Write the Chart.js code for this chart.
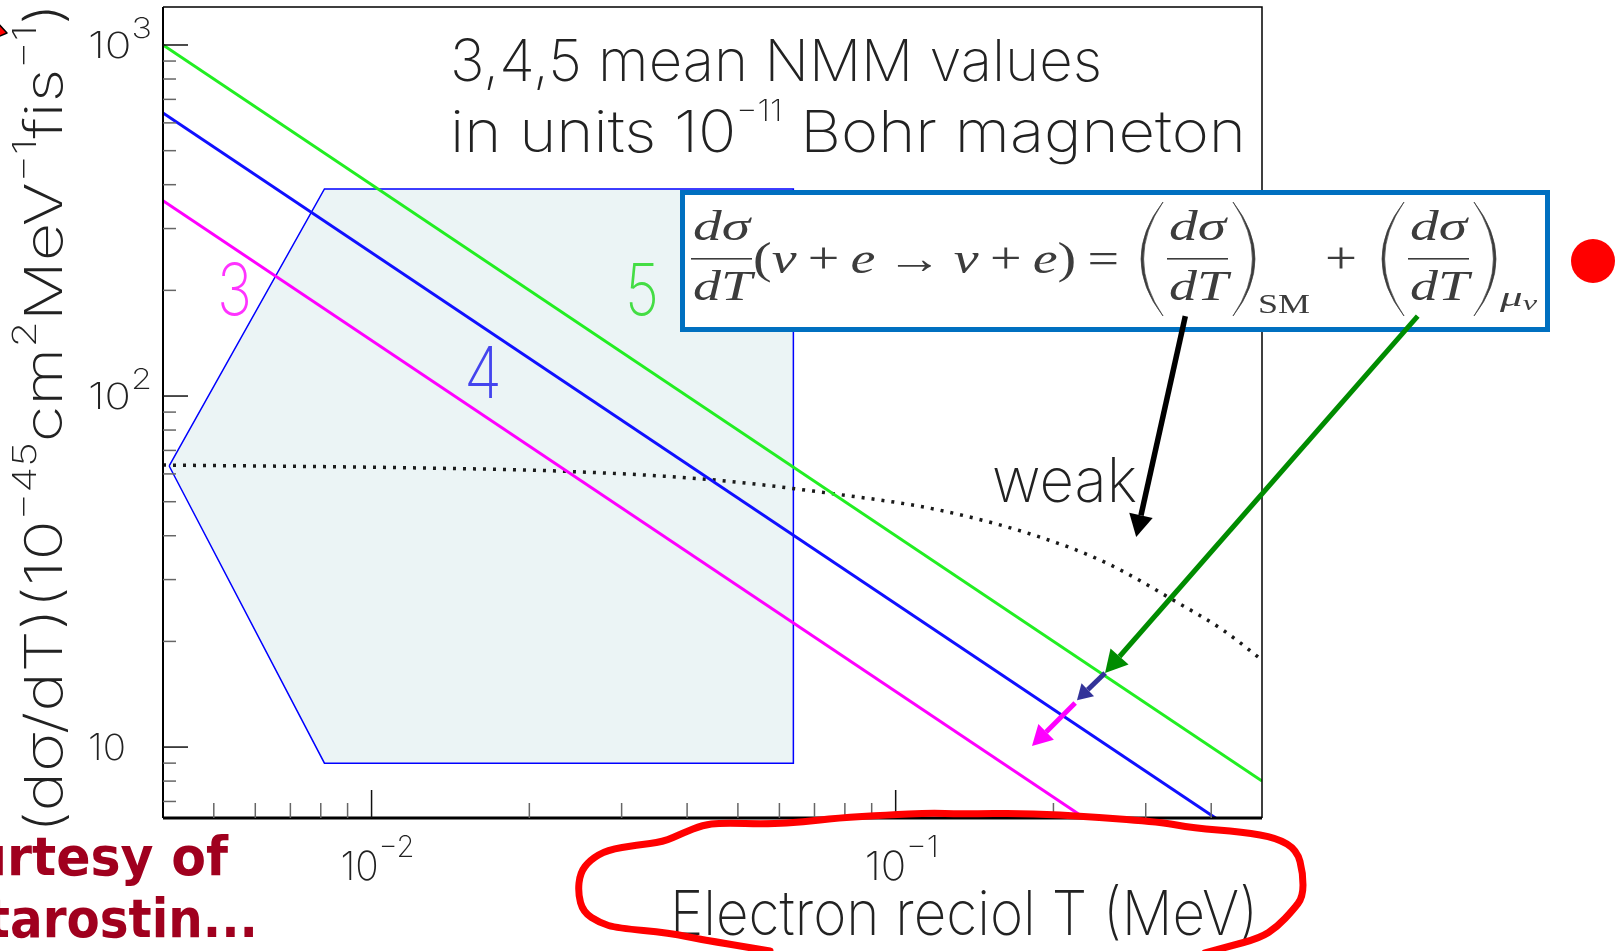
<!DOCTYPE html>
<html>
<head>
<meta charset="utf-8">
<script src="https://cdn.jsdelivr.net/npm/chart.js@4.4.1/dist/chart.umd.min.js"></script>
<style>
  html, body { margin: 0; padding: 0; background: #fff; }
  #wrap { width: 1624px; height: 951px; }
</style>
</head>
<body>
<div id="wrap"><canvas id="nmmChart" width="1624" height="951"></canvas></div>
<script>
// axis ranges (electron recoil T in MeV, dsigma/dT)
const xMin = 0.004, xMax = 0.5;
const yMin = 6.28, yMax = 1283;

// NMM lines, 3/4/5 x 10^-11 Bohr magneton
const lineT = [0.004, 0.5];
const nmm5Values = [1000, 8];
const nmm4Values = [640, 5.12];
const nmm3Values = [360, 2.88];

// weak (SM) cross section, dotted
const weakT = [0.004, 0.0123, 0.0236, 0.0443, 0.0759, 0.1213, 0.188, 0.253, 0.339, 0.422, 0.5];
const weakValues = [63.6, 62.4, 61.0, 57.8, 52.7, 47.3, 39.7, 33.4, 26.2, 21.5, 17.7];

// shaded region
const regionT = [0.00411, 0.00813, 0.0638, 0.0638, 0.00813, 0.00411];
const regionValues = [63.2, 389, 389, 9.0, 9.0, 63.2];

// ticks
const yMajorTicks = [10, 100, 1000];
const yTickPowers = ['', '2', '3'];
const xMajorTicks = [0.01, 0.1];
const xTickPowers = ['\u22122', '\u22121'];

const toPoints = (xs, ys) => xs.map((x, i) => ({ x: x, y: ys[i] }));

const SANS = 'Inter, Lato, "DejaVu Sans", sans-serif';
const SERIF = '"Times New Roman", "Liberation Serif", serif';
const W = '200 ';

// draws a run of text parts [text, font, dy], optionally squeezed to a width
function rich(ctx, parts, x, y, width) {
  let total = 0;
  parts.forEach(p => { ctx.font = p[1]; total += ctx.measureText(p[0]).width; });
  const sx = width ? width / total : 1;
  ctx.save();
  ctx.translate(x, y);
  ctx.scale(sx, 1);
  let cx = 0;
  parts.forEach(p => {
    ctx.font = p[1];
    ctx.fillText(p[0], cx, p[2] || 0);
    cx += ctx.measureText(p[0]).width;
  });
  ctx.restore();
}

function arrow(ctx, x1, y1, x2, y2, color, w, head, hw) {
  const ang = Math.atan2(y2 - y1, x2 - x1);
  const bx = x2 - Math.cos(ang) * head, by = y2 - Math.sin(ang) * head;
  ctx.save();
  ctx.strokeStyle = color;
  ctx.fillStyle = color;
  ctx.lineWidth = w;
  ctx.beginPath();
  ctx.moveTo(x1, y1);
  ctx.lineTo(bx, by);
  ctx.stroke();
  ctx.beginPath();
  ctx.moveTo(x2, y2);
  ctx.lineTo(bx + Math.sin(ang) * hw, by - Math.cos(ang) * hw);
  ctx.lineTo(bx - Math.sin(ang) * hw, by + Math.cos(ang) * hw);
  ctx.closePath();
  ctx.fill();
  ctx.restore();
}

function bigParen(ctx, x0, x1, y0, y1, left) {
  const ym = (y0 + y1) / 2, t = 2.6;
  ctx.beginPath();
  if (left) {
    ctx.moveTo(x1, y0);
    ctx.quadraticCurveTo(2 * x0 - x1, ym, x1, y1);
    ctx.quadraticCurveTo(2 * (x0 + t) - x1, ym, x1, y0);
  } else {
    ctx.moveTo(x0, y0);
    ctx.quadraticCurveTo(2 * x1 - x0, ym, x0, y1);
    ctx.quadraticCurveTo(2 * (x1 - t) - x0, ym, x0, y0);
  }
  ctx.fill();
  ctx.lineWidth = 0.7;
  ctx.stroke();
}

function frac(ctx, x0, x1, num, den) {
  const it = 'italic 400 42px ' + SERIF;
  rich(ctx, [[num, it]], x0 + 2, 240, x1 - x0 - 4);
  rich(ctx, [[den, it]], x0 + 2, 300, x1 - x0 - 2);
  ctx.fillRect(x0, 258, x1 - x0, 1.6);
}

// annotation arrows, in data coordinates
const arrowFrom = [[0.357, 169], [0.991, 169], [0.2509, 16.25], [0.220, 13.35]];
const arrowTo = [[0.2877, 39.7], [0.2509, 16.25], [0.2218, 13.6], [0.182, 10.07]];
const arrowColors = ['#000000', '#008c00', '#333399', '#ff00ff'];

// hand drawn red loop around the x axis title (page pixels)
const loop = [[770,951],[703,940],[670,933],[617,928],[600,923],[583,912],[578,893],[580,873],[590,860],[607,850],[637,845],[663,842],[683,833],[703,825],[720,823],[770,824],[803,822],[837,818],[887,815],[930,813],[960,814],[1027,813],[1093,817],[1160,822],[1193,828],[1243,832],[1277,838],[1297,850],[1303,873],[1303,897],[1293,910],[1277,927],[1260,938],[1227,947],[1205,953]];

const rootStyle = {
  id: 'rootStyle',
  beforeDraw(chart) {
    const ctx = chart.ctx;
    ctx.save();
    ctx.fillStyle = '#fff';
    ctx.fillRect(0, 0, chart.width, chart.height);
    ctx.restore();
  },
  afterDraw(chart) {
    const ctx = chart.ctx, a = chart.chartArea;
    const xs = chart.scales.x, ys = chart.scales.y;
    ctx.save();

    // frame
    ctx.strokeStyle = '#000';
    ctx.lineWidth = 1.5;
    ctx.beginPath();
    ctx.moveTo(a.left, a.top); ctx.lineTo(a.right, a.top); ctx.lineTo(a.right, a.bottom);
    ctx.stroke();
    ctx.lineWidth = 2;
    ctx.beginPath();
    ctx.moveTo(a.left, a.top); ctx.lineTo(a.left, a.bottom);
    ctx.stroke();
    ctx.lineWidth = 3;
    ctx.beginPath();
    ctx.moveTo(a.left, a.bottom); ctx.lineTo(a.right, a.bottom);
    ctx.stroke();

    // log ticks, inside the frame
    ctx.lineWidth = 1.5;
    for (let d = 1; d <= 1000; d *= 10) {
      for (let m = 1; m <= 9; m++) {
        const v = d * m;
        if (v < yMin || v > yMax) continue;
        const py = ys.getPixelForValue(v);
        ctx.strokeStyle = m === 1 ? '#111' : '#666';
        ctx.beginPath();
        ctx.moveTo(a.left, py); ctx.lineTo(a.left + (m === 1 ? 25 : 13), py);
        ctx.stroke();
      }
    }
    for (let d = 0.001; d <= 0.1001; d *= 10) {
      for (let m = 1; m <= 9; m++) {
        const v = d * m;
        if (v < xMin * 1.01 || v > xMax * 0.99) continue;
        const px = xs.getPixelForValue(v);
        ctx.strokeStyle = m === 1 ? '#111' : '#666';
        ctx.beginPath();
        ctx.moveTo(px, a.bottom); ctx.lineTo(px, a.bottom - (m === 1 ? 28 : 15));
        ctx.stroke();
      }
    }

    // tick labels
    ctx.fillStyle = '#222';
    yMajorTicks.forEach((v, i) => {
      const py = ys.getPixelForValue(v);
      const parts = [['10', W + '36px ' + SANS]];
      if (yTickPowers[i]) parts.push([yTickPowers[i], W + '28px ' + SANS, -20]);
      rich(ctx, parts, 88, py + 13, yTickPowers[i] ? 64 : 38);
    });
    xMajorTicks.forEach((v, i) => {
      const px = xs.getPixelForValue(v);
      rich(ctx, [['10', W + '40px ' + SANS], [xTickPowers[i], W + '30px ' + SANS, -23]], px - 31, 880, 74);
    });

    // axis titles
    rich(ctx, [['Electron reciol T (MeV)', W + '62px ' + SANS]], 670, 935, 588);
    ctx.save();
    ctx.translate(62, 833);
    ctx.rotate(-Math.PI / 2);
    const mf = W + '52px ' + SANS, sf = W + '33px ' + SANS;
    rich(ctx, [['(d\u03c3/dT)(10', mf], ['\u221245', sf, -26], ['cm', mf], ['2', sf, -26], ['MeV', mf],
               ['\u22121', sf, -26], ['fis', mf], ['\u22121', sf, -26], [')', mf]], 0, 0, 830);
    ctx.restore();

    // plot texts
    rich(ctx, [['3,4,5 mean NMM values', W + '58px ' + SANS]], 450, 81, 652);
    rich(ctx, [['in units 10', W + '58px ' + SANS], ['\u221211', W + '30px ' + SANS, -31],
               [' Bohr magneton', W + '58px ' + SANS]], 450, 152, 796);
    rich(ctx, [['weak', W + '62px ' + SANS]], 992, 502, 145);
    ctx.fillStyle = '#ff33ff';
    rich(ctx, [['3', W + '72px ' + SANS]], 217, 315, 35);
    ctx.fillStyle = '#4444ee';
    rich(ctx, [['4', W + '72px ' + SANS]], 464, 398, 38);
    ctx.fillStyle = '#44dd44';
    rich(ctx, [['5', W + '72px ' + SANS]], 625, 315, 34);

    // formula box
    ctx.fillStyle = '#fff';
    ctx.fillRect(682, 192, 866, 138);
    ctx.strokeStyle = '#0070c0';
    ctx.lineWidth = 5;
    ctx.strokeRect(682.5, 192.5, 865, 137);
    ctx.fillStyle = '#3c3c3c';
    ctx.strokeStyle = '#3c3c3c';
    const up = '400 44px ' + SERIF, it = 'italic 400 44px ' + SERIF, th = '\u2009';
    frac(ctx, 691, 752, 'd\u03c3', 'dT');
    rich(ctx, [['(', up], ['\u03bd', it], [th + '+' + th, up], ['e', it], [th + '\u2192' + th, up], ['\u03bd', it],
               [th + '+' + th, up], ['e', it], [')' + th + '=', up]], 753, 273, 366);
    bigParen(ctx, 1141, 1163, 202, 316, true);
    frac(ctx, 1167, 1228, 'd\u03c3', 'dT');
    bigParen(ctx, 1233, 1255, 202, 316, false);
    rich(ctx, [['SM', '400 28px ' + SERIF]], 1258, 313, 52);
    rich(ctx, [['+', up]], 1325, 273, 32);
    bigParen(ctx, 1382, 1404, 202, 316, true);
    frac(ctx, 1408, 1469, 'd\u03c3', 'dT');
    bigParen(ctx, 1474, 1496, 202, 316, false);
    rich(ctx, [['\u03bc', 'italic 400 28px ' + SERIF], ['\u03bd', 'italic 400 20px ' + SERIF, 4]], 1500, 306, 37);

    // arrows
    arrowFrom.forEach((f, i) => {
      const t = arrowTo[i];
      const big = i < 2;
      arrow(ctx, xs.getPixelForValue(f[0]), ys.getPixelForValue(f[1]),
            xs.getPixelForValue(t[0]), ys.getPixelForValue(t[1]),
            arrowColors[i], i === 0 ? 5.5 : 5, i === 2 ? 15 : (big ? 22 : 20), i === 2 ? 9 : (big ? 12 : 11));
    });

    // red bullet
    ctx.fillStyle = '#ff0000';
    ctx.beginPath();
    ctx.arc(1593, 261, 22, 0, Math.PI * 2);
    ctx.fill();

    // red loop
    ctx.strokeStyle = '#ff0000';
    ctx.lineWidth = 7;
    ctx.lineJoin = 'round';
    ctx.lineCap = 'round';
    ctx.beginPath();
    ctx.moveTo(loop[0][0], loop[0][1]);
    for (let i = 1; i < loop.length - 1; i++) {
      const mx = (loop[i][0] + loop[i + 1][0]) / 2, my = (loop[i][1] + loop[i + 1][1]) / 2;
      ctx.quadraticCurveTo(loop[i][0], loop[i][1], mx, my);
    }
    ctx.lineTo(loop[loop.length - 1][0], loop[loop.length - 1][1]);
    ctx.stroke();

    // slide leftovers: courtesy note and arrow tip
    ctx.fillStyle = '#a0001e';
    const cf = 'bold 54px "DejaVu Sans", sans-serif';
    ctx.font = cf;
    let sx = 221 / ctx.measureText('rtesy of').width;
    rich(ctx, [['Courtesy of', cf]], 228 - ctx.measureText('Courtesy of').width * sx, 875, ctx.measureText('Courtesy of').width * sx);
    ctx.font = cf;
    sx = 248 / ctx.measureText('arostin...').width;
    rich(ctx, [['Starostin...', cf]], 258 - ctx.measureText('Starostin...').width * sx, 937, ctx.measureText('Starostin...').width * sx);

    ctx.fillStyle = '#ff0000';
    ctx.strokeStyle = '#000';
    ctx.lineWidth = 1.5;
    ctx.beginPath();
    ctx.moveTo(-14, 10); ctx.lineTo(7, 33); ctx.lineTo(-14, 42);
    ctx.closePath();
    ctx.fill();
    ctx.stroke();

    ctx.restore();
  }
};

new Chart(document.getElementById('nmmChart'), {
  type: 'scatter',
  data: {
    datasets: [
      { label: '5', data: toPoints(lineT, nmm5Values), showLine: true, borderColor: '#22ee22', borderWidth: 3, pointRadius: 0 },
      { label: '4', data: toPoints(lineT, nmm4Values), showLine: true, borderColor: '#1010ff', borderWidth: 3, pointRadius: 0 },
      { label: '3', data: toPoints(lineT, nmm3Values), showLine: true, borderColor: '#ff00ff', borderWidth: 3, pointRadius: 0 },
      { label: 'weak', data: toPoints(weakT, weakValues), showLine: true, borderColor: '#1a1a1a', borderWidth: 3.5,
        borderDash: [3, 7], cubicInterpolationMode: 'monotone', pointRadius: 0 },
      { label: 'region', data: toPoints(regionT.concat([regionT[0]]), regionValues.concat([regionValues[0]])),
        showLine: true, borderColor: '#0000ff', borderWidth: 1.5, backgroundColor: '#ebf4f5', fill: 'shape', pointRadius: 0 }
    ]
  },
  options: {
    responsive: false,
    animation: false,
    devicePixelRatio: 1,
    layout: { padding: { left: 163, right: 362, top: 7, bottom: 133 } },
    scales: {
      x: { type: 'logarithmic', min: xMin, max: xMax, display: false },
      y: { type: 'logarithmic', min: yMin, max: yMax, display: false }
    },
    plugins: { legend: { display: false }, tooltip: { enabled: false } }
  },
  plugins: [rootStyle]
});
</script>
</body>
</html>
